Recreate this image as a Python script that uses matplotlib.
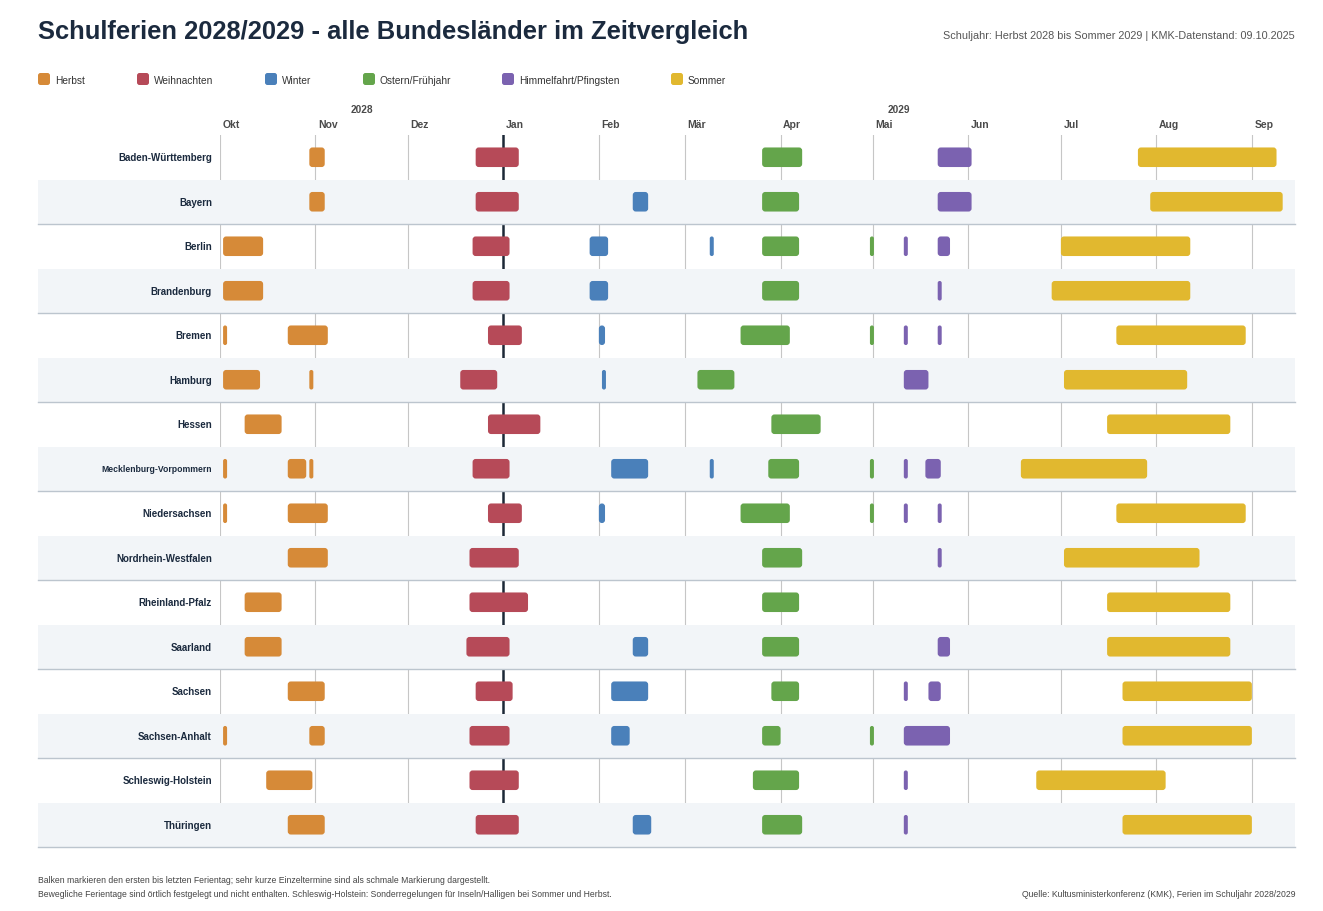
import datetime as dt
import matplotlib
matplotlib.use("Agg")
import matplotlib.pyplot as plt
import matplotlib.dates as mdates
from matplotlib.patches import FancyBboxPatch, Rectangle
from matplotlib.transforms import blended_transform_factory

plt.rcParams['font.family'] = ['Liberation Sans', 'DejaVu Sans']

kuerzel = ["BW", "BY", "BE", "BB", "HB", "HH", "HE", "MV",
           "NI", "NW", "RP", "SL", "SN", "ST", "SH", "TH"]
laender = ["Baden-Württemberg", "Bayern", "Berlin", "Brandenburg", "Bremen",
           "Hamburg", "Hessen", "Mecklenburg-Vorpommern", "Niedersachsen",
           "Nordrhein-Westfalen", "Rheinland-Pfalz", "Saarland", "Sachsen",
           "Sachsen-Anhalt", "Schleswig-Holstein", "Thüringen"]

monate = ["Okt", "Nov", "Dez", "Jan", "Feb", "Mär", "Apr", "Mai", "Jun", "Jul", "Aug", "Sep"]
monat_start = ["2028-10-01", "2028-11-01", "2028-12-01", "2029-01-01", "2029-02-01", "2029-03-01",
               "2029-04-01", "2029-05-01", "2029-06-01", "2029-07-01", "2029-08-01", "2029-09-01"]
zeitraum = ("2028-10-01", "2029-09-15")

# (Land, erster Ferientag, letzter Ferientag)
herbst = [
    ("BW", "2028-10-30", "2028-11-03"), ("BY", "2028-10-30", "2028-11-03"),
    ("BE", "2028-10-02", "2028-10-14"), ("BB", "2028-10-02", "2028-10-14"),
    ("HB", "2028-10-02", "2028-10-02"), ("HB", "2028-10-23", "2028-11-04"),
    ("HH", "2028-10-02", "2028-10-13"), ("HH", "2028-10-30", "2028-10-30"),
    ("HE", "2028-10-09", "2028-10-20"),
    ("MV", "2028-10-02", "2028-10-02"), ("MV", "2028-10-23", "2028-10-28"), ("MV", "2028-10-30", "2028-10-30"),
    ("NI", "2028-10-02", "2028-10-02"), ("NI", "2028-10-23", "2028-11-04"),
    ("NW", "2028-10-23", "2028-11-04"), ("RP", "2028-10-09", "2028-10-20"),
    ("SL", "2028-10-09", "2028-10-20"), ("SN", "2028-10-23", "2028-11-03"),
    ("ST", "2028-10-02", "2028-10-02"), ("ST", "2028-10-30", "2028-11-03"),
    ("SH", "2028-10-16", "2028-10-30"), ("TH", "2028-10-23", "2028-11-03"),
]
weihnachten = [
    ("BW", "2028-12-23", "2029-01-05"), ("BY", "2028-12-23", "2029-01-05"),
    ("BE", "2028-12-22", "2029-01-02"), ("BB", "2028-12-22", "2029-01-02"),
    ("HB", "2028-12-27", "2029-01-06"), ("HH", "2028-12-18", "2028-12-29"),
    ("HE", "2028-12-27", "2029-01-12"), ("MV", "2028-12-22", "2029-01-02"),
    ("NI", "2028-12-27", "2029-01-06"), ("NW", "2028-12-21", "2029-01-05"),
    ("RP", "2028-12-21", "2029-01-08"), ("SL", "2028-12-20", "2029-01-02"),
    ("SN", "2028-12-23", "2029-01-03"), ("ST", "2028-12-21", "2029-01-02"),
    ("SH", "2028-12-21", "2029-01-05"), ("TH", "2028-12-23", "2029-01-05"),
]
winter = [
    ("BY", "2029-02-12", "2029-02-16"),
    ("BE", "2029-01-29", "2029-02-03"), ("BE", "2029-03-09", "2029-03-09"),
    ("BB", "2029-01-29", "2029-02-03"), ("HB", "2029-02-01", "2029-02-02"),
    ("HH", "2029-02-02", "2029-02-02"),
    ("MV", "2029-02-05", "2029-02-16"), ("MV", "2029-03-09", "2029-03-09"),
    ("NI", "2029-02-01", "2029-02-02"), ("SL", "2029-02-12", "2029-02-16"),
    ("SN", "2029-02-05", "2029-02-16"), ("ST", "2029-02-05", "2029-02-10"),
    ("TH", "2029-02-12", "2029-02-17"),
]
ostern = [
    ("BW", "2029-03-26", "2029-04-07"), ("BY", "2029-03-26", "2029-04-06"),
    ("BE", "2029-03-26", "2029-04-06"), ("BE", "2029-04-30", "2029-04-30"),
    ("BB", "2029-03-26", "2029-04-06"),
    ("HB", "2029-03-19", "2029-04-03"), ("HB", "2029-04-30", "2029-04-30"),
    ("HH", "2029-03-05", "2029-03-16"), ("HE", "2029-03-29", "2029-04-13"),
    ("MV", "2029-03-28", "2029-04-06"), ("MV", "2029-04-30", "2029-04-30"),
    ("NI", "2029-03-19", "2029-04-03"), ("NI", "2029-04-30", "2029-04-30"),
    ("NW", "2029-03-26", "2029-04-07"), ("RP", "2029-03-26", "2029-04-06"),
    ("SL", "2029-03-26", "2029-04-06"), ("SN", "2029-03-29", "2029-04-06"),
    ("ST", "2029-03-26", "2029-03-31"), ("ST", "2029-04-30", "2029-04-30"),
    ("SH", "2029-03-23", "2029-04-06"), ("TH", "2029-03-26", "2029-04-07"),
]
pfingsten = [
    ("BW", "2029-05-22", "2029-06-01"), ("BY", "2029-05-22", "2029-06-01"),
    ("BE", "2029-05-11", "2029-05-11"), ("BE", "2029-05-22", "2029-05-25"),
    ("BB", "2029-05-22", "2029-05-22"),
    ("HB", "2029-05-11", "2029-05-11"), ("HB", "2029-05-22", "2029-05-22"),
    ("HH", "2029-05-11", "2029-05-18"),
    ("MV", "2029-05-11", "2029-05-11"), ("MV", "2029-05-18", "2029-05-22"),
    ("NI", "2029-05-11", "2029-05-11"), ("NI", "2029-05-22", "2029-05-22"),
    ("NW", "2029-05-22", "2029-05-22"), ("SL", "2029-05-22", "2029-05-25"),
    ("SN", "2029-05-11", "2029-05-11"), ("SN", "2029-05-19", "2029-05-22"),
    ("ST", "2029-05-11", "2029-05-25"), ("SH", "2029-05-11", "2029-05-11"),
    ("TH", "2029-05-11", "2029-05-11"),
]
sommer = [
    ("BW", "2029-07-26", "2029-09-08"), ("BY", "2029-07-30", "2029-09-10"),
    ("BE", "2029-07-01", "2029-08-11"), ("BB", "2029-06-28", "2029-08-11"),
    ("HB", "2029-07-19", "2029-08-29"), ("HH", "2029-07-02", "2029-08-10"),
    ("HE", "2029-07-16", "2029-08-24"), ("MV", "2029-06-18", "2029-07-28"),
    ("NI", "2029-07-19", "2029-08-29"), ("NW", "2029-07-02", "2029-08-14"),
    ("RP", "2029-07-16", "2029-08-24"), ("SL", "2029-07-16", "2029-08-24"),
    ("SN", "2029-07-21", "2029-08-31"), ("ST", "2029-07-21", "2029-08-31"),
    ("SH", "2029-06-23", "2029-08-03"), ("TH", "2029-07-21", "2029-08-31"),
]

kategorien = [
    ("Herbst", "#d68a38", herbst),
    ("Weihnachten", "#b64a58", weihnachten),
    ("Winter", "#4a80ba", winter),
    ("Ostern/Frühjahr", "#64a54b", ostern),
    ("Himmelfahrt/Pfingsten", "#7b62b0", pfingsten),
    ("Sommer", "#e1b82f", sommer),
]


def tag(s):
    return mdates.date2num(dt.date.fromisoformat(s))


W, H = 1323, 912
fig = plt.figure(figsize=(W / 100, H / 100), dpi=100)
links, rechts, oben, unten = 220, 1295, 136, 848
ax = fig.add_axes([links / W, 1 - unten / H, (rechts - links) / W, (unten - oben) / H])
n = len(laender)
ax.set_xlim(tag(zeitraum[0]), tag(zeitraum[1]))
ax.set_ylim(n, 0)
ax.axis('off')

px_tag = (rechts - links) / (tag(zeitraum[1]) - tag(zeitraum[0]))
px_zeile = (unten - oben) / n
aspekt = px_tag / px_zeile

# Monatslinien
for m in monat_start:
    if m.endswith("01-01"):
        ax.axvline(tag(m), color="#1c2836", lw=1.8, zorder=0.5)
    else:
        ax.axvline(tag(m), color="#c6c6c6", lw=0.8, zorder=0.3)

# Zeilenbaender
x_band = (38 - links) / (rechts - links)
trans = blended_transform_factory(ax.transAxes, ax.transData)
for i in range(1, n, 2):
    ax.add_patch(Rectangle((x_band, i), 1 - x_band, 1, transform=trans,
                           facecolor="#f2f5f8", edgecolor="none", zorder=1, clip_on=False))
    ax.plot([x_band, 1], [i + 1, i + 1], transform=trans, color="#bcc5ce",
            lw=1.0, zorder=1.2, clip_on=False)

# Balken
hoehe = 0.44
for name, farbe, liste in kategorien:
    for kz, von, bis in liste:
        i = kuerzel.index(kz)
        x0 = tag(von)
        breite = tag(bis) + 1 - x0
        if breite < 1.3:
            breite = 1.3  # schmale Markierung
        r = min(1.0, breite / 2)
        ax.add_patch(FancyBboxPatch((x0, i + 0.5 - hoehe / 2), breite, hoehe,
                                    boxstyle=f"round,pad=0,rounding_size={r}",
                                    mutation_aspect=aspekt, facecolor=farbe,
                                    edgecolor="none", zorder=3))

# Beschriftungen
ytr = ax.get_yaxis_transform()
for i, land in enumerate(laender):
    gr = 6.2 if land == "Mecklenburg-Vorpommern" else 7.0
    ax.text(-0.0075, i + 0.5, land, transform=ytr, ha="right", va="center",
            fontsize=gr, fontweight="bold", color="#1b2a3e")

xtr = ax.get_xaxis_transform()
y_monat = 1 + (oben - 125.5) / (unten - oben)
y_jahr = 1 + (oben - 110) / (unten - oben)
for m, s in zip(monate, monat_start):
    ax.text(tag(s) + 0.8, y_monat, m, transform=xtr, ha="left", va="center",
            fontsize=7.5, fontweight="bold", color="#4a4a4a", clip_on=False)
ax.text((tag("2028-10-01") + tag("2029-01-01")) / 2, y_jahr, "2028", transform=xtr,
        ha="center", va="center", fontsize=7.3, fontweight="bold", color="#4a4a4a")
ax.text((tag("2029-01-01") + tag(zeitraum[1])) / 2, y_jahr, "2029", transform=xtr,
        ha="center", va="center", fontsize=7.3, fontweight="bold", color="#4a4a4a")

# Ueberlagerung in Pixelkoordinaten fuer Titel, Legende und Fussnoten
ov = fig.add_axes([0, 0, 1, 1])
ov.set_xlim(0, W)
ov.set_ylim(H, 0)
ov.axis('off')
ov.patch.set_visible(False)

ov.text(38, 32, "Schulferien 2028/2029 - alle Bundesländer im Zeitvergleich",
        ha="left", va="center", fontsize=18.4, fontweight="bold", color="#1b2a3e")
ov.text(1295, 36, "Schuljahr: Herbst 2028 bis Sommer 2029 | KMK-Datenstand: 09.10.2025",
        ha="right", va="center", fontsize=7.85, color="#555555")

legende_x = [38, 137, 265, 363, 502, 671]
for x0, (name, farbe, _) in zip(legende_x, kategorien):
    ov.add_patch(FancyBboxPatch((x0, 74), 12, 12, boxstyle="round,pad=0,rounding_size=2.5",
                                facecolor=farbe, edgecolor="none"))
    ov.text(x0 + 17, 80.5, name, ha="left", va="center", fontsize=7.3, color="#333333")

ov.text(38, 881, "Balken markieren den ersten bis letzten Ferientag; sehr kurze Einzeltermine "
        "sind als schmale Markierung dargestellt.", ha="left", va="center",
        fontsize=6.2, color="#444444")
ov.text(38, 895, "Bewegliche Ferientage sind örtlich festgelegt und nicht enthalten. "
        "Schleswig-Holstein: Sonderregelungen für Inseln/Halligen bei Sommer und Herbst.",
        ha="left", va="center", fontsize=6.2, color="#444444")
ov.text(1295, 895, "Quelle: Kultusministerkonferenz (KMK), Ferien im Schuljahr 2028/2029",
        ha="right", va="center", fontsize=6.2, color="#444444")

fig.savefig("out.png", dpi=100, facecolor="white")
